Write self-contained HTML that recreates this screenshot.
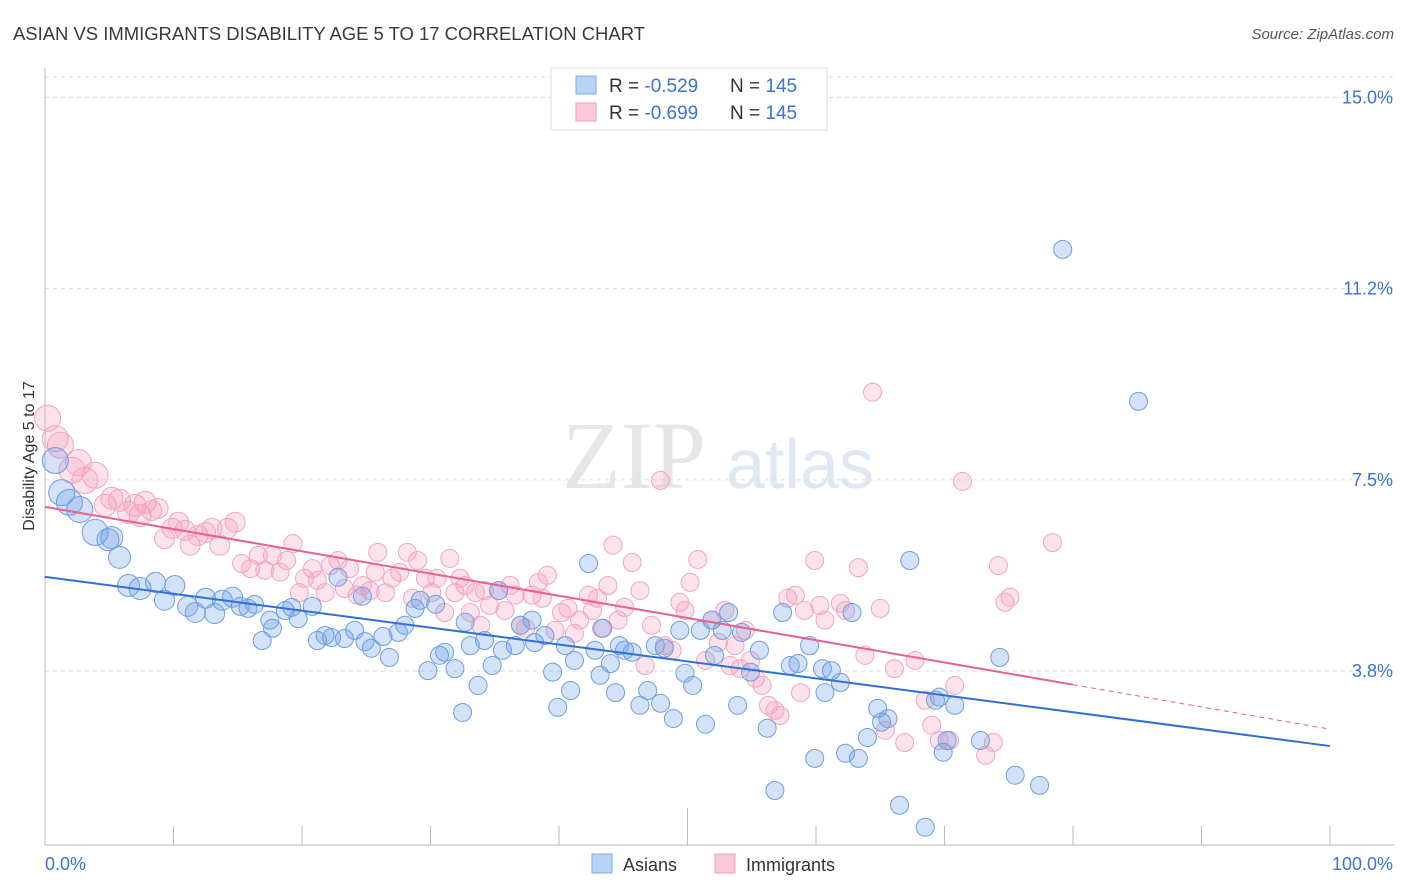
<!DOCTYPE html>
<html><head><meta charset="utf-8"><style>
body{margin:0;background:#fff;font-family:"Liberation Sans",sans-serif;}
#wrap{position:relative;width:1406px;height:892px;overflow:hidden;}
</style></head><body>
<div id="wrap">
<svg id="chart" width="1406" height="892" xmlns="http://www.w3.org/2000/svg">
<text x="13" y="40" font-size="18.5" fill="#3a3a3a" textLength="632">ASIAN VS IMMIGRANTS DISABILITY AGE 5 TO 17 CORRELATION CHART</text>
<text x="1394" y="39" font-size="15" fill="#555" font-style="italic" text-anchor="end">Source: ZipAtlas.com</text>
<text x="634" y="488" font-size="96" fill="#e6e6e6" font-family="Liberation Serif,serif" text-anchor="middle">ZIP</text>
<text x="800" y="488" font-size="70" fill="#dde8f5" text-anchor="middle">atlas</text>
<g id="grid"></g>
<g id="axes"></g>
<g id="pts"></g>
<g id="lines"></g>
<text transform="translate(34,456) rotate(-90)" font-size="16" fill="#333" text-anchor="middle">Disability Age 5 to 17</text>
<g>
<rect x="551" y="68" width="276" height="62" fill="#fff" stroke="#ddd"/>
<rect x="576" y="76" width="20" height="18" fill="#b8d2f5" stroke="#7fa8e6"/>
<rect x="576" y="103" width="20" height="18" fill="#fbc8d8" stroke="#f0a0b8"/>
<text x="609" y="92" font-size="19" fill="#333">R = <tspan fill="#3b73d1">-0.529</tspan></text>
<text x="730" y="92" font-size="19" fill="#333">N = <tspan fill="#3b73d1">145</tspan></text>
<text x="609" y="119" font-size="19" fill="#333">R = <tspan fill="#3b73d1">-0.699</tspan></text>
<text x="730" y="119" font-size="19" fill="#333">N = <tspan fill="#3b73d1">145</tspan></text>
</g>
<g>
<rect x="592" y="854" width="20" height="19" fill="#b8d2f5" stroke="#7fa8e6"/>
<text x="623" y="871" font-size="18" fill="#333">Asians</text>
<rect x="715" y="854" width="20" height="19" fill="#fbc8d8" stroke="#f0a0b8"/>
<text x="746" y="871" font-size="18" fill="#333">Immigrants</text>
</g>
</svg>
</div>
<script>
const yTicks=[3.75,7.5,11.25,15];
const yTickLabels=["3.8%","7.5%","11.2%","15.0%"];
const xTickLabels=["0.0%","100.0%"];
const asianX=[0.8,1.3,1.9,2.7,3.9,4.9,5.2,5.8,6.5,7.4,8.6,9.3,10.1,11.1,11.7,12.5,13.2,13.8,14.6,15.2,15.8,16.3,16.9,17.5,17.7,18.7,19.2,19.7,20.8,21.2,21.8,22.3,22.8,23.3,24.1,24.7,24.9,25.4,26.3,26.8,27.5,28.0,28.8,29.2,29.8,30.4,30.7,31.1,31.9,32.5,32.7,33.1,33.7,34.2,34.8,35.3,35.6,36.6,37.0,37.9,38.1,38.9,39.5,39.9,40.5,40.9,41.2,42.3,42.8,43.2,43.4,44.0,44.4,44.7,45.1,45.7,46.3,46.9,47.5,47.9,48.2,48.9,49.4,49.8,50.4,51.0,51.4,51.9,52.1,52.7,53.2,53.9,54.2,54.9,55.6,56.2,56.8,57.4,58.0,58.6,59.5,59.9,60.5,60.7,61.2,61.9,62.3,62.8,63.3,64.0,64.8,65.1,65.6,66.5,67.3,68.5,69.3,69.6,69.9,70.2,70.8,72.8,74.3,75.5,77.4,79.2,85.1];
const asianY=[7.88,7.25,7.06,6.92,6.47,6.33,6.37,5.98,5.43,5.37,5.49,5.14,5.43,5.02,4.90,5.18,4.88,5.14,5.20,5.02,4.98,5.06,4.35,4.75,4.59,4.94,5.00,4.78,5.02,4.35,4.45,4.41,5.59,4.39,4.55,5.22,4.33,4.20,4.43,4.02,4.51,4.65,4.98,5.14,3.76,5.06,4.06,4.12,3.80,2.94,4.71,4.25,3.47,4.35,3.86,5.33,4.16,4.25,4.65,4.75,4.31,4.45,3.73,3.04,4.25,3.37,3.96,5.86,4.16,3.67,4.59,3.90,3.33,4.25,4.16,4.12,3.08,3.37,4.25,3.12,4.20,2.82,4.55,3.71,3.47,4.55,2.71,4.75,4.06,4.55,4.90,3.08,4.51,3.73,4.16,2.63,1.41,4.90,3.86,3.90,4.25,2.04,3.80,3.33,3.76,3.53,2.14,4.90,2.04,2.45,3.02,2.75,2.82,1.12,5.92,0.69,3.18,3.24,2.16,2.39,3.08,2.39,4.02,1.71,1.51,12.02,9.04];
const immX=[0.2,0.8,1.2,2.1,2.6,3.1,3.9,4.7,5.2,5.8,6.5,7.0,7.4,7.8,8.3,8.8,9.3,9.9,10.4,10.9,11.3,11.9,12.5,13.0,13.6,14.2,14.8,15.3,16.0,16.6,17.1,17.7,18.3,18.8,19.3,19.8,20.2,20.8,21.2,21.8,22.2,22.8,23.3,23.7,24.3,24.7,25.3,25.7,25.9,26.5,27.0,27.6,28.2,28.6,29.0,29.6,30.1,30.5,31.1,31.5,31.9,32.3,32.7,33.1,33.5,33.9,34.2,34.6,35.3,35.8,36.2,36.6,37.0,37.4,37.9,38.4,38.7,39.1,39.7,40.2,40.7,41.2,41.6,42.3,42.6,43.0,43.3,43.8,44.2,44.6,45.1,45.7,46.3,46.7,47.2,47.9,48.2,48.8,49.4,49.8,50.2,50.8,51.4,51.9,52.4,52.9,53.3,53.7,54.1,54.5,54.9,55.3,55.8,56.3,56.8,57.2,57.8,58.4,58.8,59.1,59.9,60.3,60.7,61.9,62.3,63.3,63.8,64.4,65.0,65.4,66.1,66.9,67.7,68.5,69.0,69.6,70.4,70.8,71.4,73.2,73.8,74.2,74.7,75.1,78.4];
const immY=[8.71,8.31,8.18,7.69,7.84,7.49,7.59,7.00,7.14,7.10,6.86,7.00,6.80,7.06,6.90,6.94,6.35,6.55,6.67,6.51,6.22,6.41,6.47,6.55,6.22,6.55,6.67,5.86,5.76,6.02,5.73,6.02,5.69,5.92,6.25,5.29,5.57,5.76,5.53,5.29,5.82,5.92,5.37,5.76,5.24,5.43,5.33,5.69,6.08,5.29,5.57,5.69,6.08,5.18,5.92,5.57,5.29,5.57,4.90,5.96,5.29,5.57,5.43,4.90,5.29,4.65,5.33,5.04,5.33,4.94,5.43,5.24,4.65,4.59,5.24,5.49,5.18,5.63,4.55,4.90,4.98,4.49,4.75,5.24,4.94,5.18,4.59,5.43,6.22,4.75,5.00,5.88,5.33,3.86,4.65,7.49,4.25,4.16,5.10,4.94,5.49,5.94,3.96,4.75,4.31,4.94,3.86,4.25,3.80,4.55,3.96,3.61,3.47,3.08,2.98,2.88,5.18,5.24,3.33,4.94,5.92,5.04,4.75,5.08,4.94,5.78,4.06,9.22,4.98,2.59,3.80,2.35,3.96,3.18,2.69,2.39,2.39,3.47,7.47,2.10,2.35,5.82,5.10,5.20,6.27];

const NS="http://www.w3.org/2000/svg";
const X0=45,X1=1330,Y0=862.4,PPU=51.0;
function sx(v){return X0+(X1-X0)*v/100;}
function sy(v){return Y0-v*PPU;}
function mk(tag,attrs,parent){const e=document.createElementNS(NS,tag);for(const k in attrs)e.setAttribute(k,attrs[k]);parent.appendChild(e);return e;}
const grid=document.getElementById('grid'),axes=document.getElementById('axes'),pts=document.getElementById('pts'),lines=document.getElementById('lines');
yTicks.forEach((t,i)=>{
  const l=mk('line',{x1:45,x2:1395,y1:sy(t),y2:sy(t),stroke:'#ddd','stroke-dasharray':'4,4'},grid);
  
  
  const tx=mk('text',{x:1393,y:sy(t)+6,'font-size':18,fill:'#3b73d1','text-anchor':'end'},axes);
  tx.textContent=yTickLabels[i];
  
  
});
mk('line',{x1:45,x2:1395,y1:77,y2:77,stroke:'#ddd','stroke-dasharray':'4,4'},grid);
const ya=mk('line',{x1:45,x2:45,y1:68,y2:845,stroke:'#bbb'},axes);


const xa=mk('line',{x1:45,x2:1395,y1:845,y2:845,stroke:'#bbb'},axes);


for(let i=1;i<=10;i++){
  const t=mk('line',{x1:sx(i*10),x2:sx(i*10),y1:i==5?808:826,y2:845,stroke:'#bbb'},axes);
  
  
}
const xl0=mk('text',{x:45,y:870,'font-size':18,fill:'#3b73d1'},axes);xl0.textContent=xTickLabels[0];


const xl1=mk('text',{x:1393,y:870,'font-size':18,fill:'#3b73d1','text-anchor':'end'},axes);xl1.textContent=xTickLabels[1];


function rad(x){return x<4?13:x<8?11:x<15?10:9;}
function drawPts(xs,ys,fill,stroke,name){
  xs.forEach((x,i)=>{
    const c=mk('circle',{cx:sx(x),cy:sy(ys[i]),r:rad(x),fill:fill,stroke:stroke,'stroke-width':1},pts);
    
    
  });
}
drawPts(immX,immY,'rgba(245,160,190,0.3)','#f2a5bf','immigrants-point');
drawPts(asianX,asianY,'rgba(110,160,230,0.3)','#6d9ee3','asians-point');
function fit(xs,ys){const n=xs.length;let mx=0,my=0;for(let i=0;i<n;i++){mx+=xs[i];my+=ys[i];}mx/=n;my/=n;let a=0,b=0;for(let i=0;i<n;i++){a+=(xs[i]-mx)*(ys[i]-my);b+=(xs[i]-mx)**2;}const s=a/b;return [my-s*mx,s];}
const fa=fit(asianX,asianY),fi=fit(immX,immY);
const la=mk('line',{x1:sx(0),y1:sy(fa[0]),x2:sx(100),y2:sy(fa[0]+fa[1]*100),stroke:'#2f6fd8','stroke-width':2},lines);


const li=mk('line',{x1:sx(0),y1:sy(fi[0]),x2:sx(80),y2:sy(fi[0]+fi[1]*80),stroke:'#e8608f','stroke-width':2},lines);


const ld=mk('line',{x1:sx(80),y1:sy(fi[0]+fi[1]*80),x2:sx(100),y2:sy(fi[0]+fi[1]*100),stroke:'#e8608f','stroke-width':1,'stroke-dasharray':'5,4'},lines);


</script>
</body></html>
